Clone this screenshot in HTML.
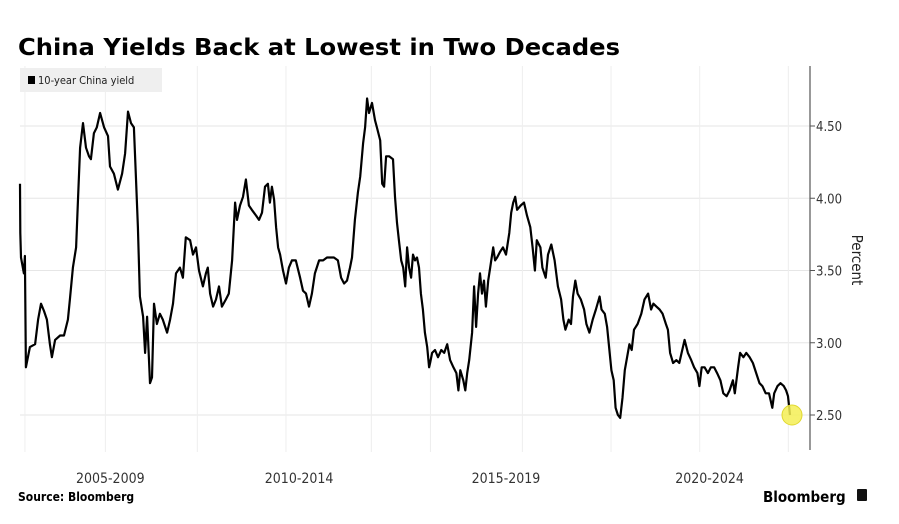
<!DOCTYPE html>
<html><head><meta charset="utf-8">
<style>
html,body{margin:0;padding:0;background:#fff;}
body{width:899px;height:519px;overflow:hidden;font-family:"Liberation Sans","DejaVu Sans",sans-serif;}
svg text{font-family:"DejaVu Sans Condensed","Liberation Sans",sans-serif;}
</style></head>
<body>
<svg id="chart" width="899" height="519" xmlns="http://www.w3.org/2000/svg">
<text x="18" y="55" font-weight="bold" font-size="23" fill="#000" style="font-family:'DejaVu Sans',sans-serif" textLength="602" lengthAdjust="spacingAndGlyphs">China Yields Back at Lowest in Two Decades</text>
<g id="grid"></g>
<g id="axis"></g>
<g id="xaxis"></g>
<g id="series"></g>
<g>
<rect x="20" y="68" width="142" height="24" fill="#efefef"/>
<rect x="28" y="76" width="7" height="8" fill="#000"/>
<text x="38" y="84" font-size="11" fill="#222">10-year China yield</text>
</g>
<text transform="translate(852,260) rotate(90)" text-anchor="middle" font-size="15" fill="#222">Percent</text>
<text x="18" y="501" font-size="12" font-weight="bold" fill="#000">Source: Bloomberg</text>
<text x="763" y="502" font-size="15" font-weight="bold" fill="#000">Bloomberg</text>
<rect x="857" y="489" width="10" height="12" rx="1" fill="#111"/>
</svg>
<script>
const months = [0,0.1,0.3,1.2,1.5,1.8,3.0,4.6,5.5,6.4,7.3,8.2,9.1,9.7,10.7,12.2,13.4,14.6,15.2,16.1,17.1,17.7,18.3,19.2,20.1,21.0,21.6,22.5,23.4,24.4,25.6,26.8,27.4,28.6,29.8,31.1,32.0,32.9,33.8,34.7,35.3,35.9,36.5,37.5,38.1,38.7,39.6,40.2,40.8,41.7,42.6,43.5,44.8,45.7,46.6,47.5,48.7,49.6,50.5,51.8,52.7,53.6,54.5,55.7,56.6,57.2,57.9,58.8,59.7,60.6,61.5,62.7,63.6,64.6,65.5,66.1,67.0,67.9,68.8,69.7,70.6,71.9,72.8,73.7,74.6,75.5,76.1,76.7,77.4,78.0,78.6,79.2,80.1,81.0,81.9,82.8,84.0,85.3,86.2,87.1,88.0,88.9,89.8,91.1,92.3,93.5,94.7,95.6,96.8,97.8,98.7,99.6,100.5,101.1,102.0,102.9,103.6,104.5,105.1,105.7,106.3,107.2,108.1,108.7,109.7,110.3,110.9,111.5,112.4,113.6,114.2,114.8,115.4,116.1,116.7,117.3,117.9,118.5,119.1,119.7,120.3,120.9,121.5,122.1,122.7,123.3,124.0,124.6,124.9,125.5,126.4,127.3,128.3,129.2,130.1,131.0,132.0,132.9,133.5,134.1,135.0,135.6,136.2,136.8,137.7,138.3,138.9,139.5,140.1,140.7,141.3,141.9,142.6,143.2,144.1,144.7,145.3,146.2,147.1,148.0,149.0,149.6,150.2,150.8,151.4,152.5,153.5,154.4,155.4,156.1,156.8,157.4,158.5,159.1,160.1,160.8,161.8,162.8,163.8,164.8,165.5,166.1,167.1,167.8,168.4,169.1,169.8,170.8,171.8,172.5,173.4,174.4,175.4,176.5,177.1,178.1,178.8,179.4,180.1,180.8,181.4,182.1,182.8,183.5,184.2,184.9,185.6,186.3,187.0,188.1,189.2,190.2,191.3,192.2,192.9,193.8,194.8,195.7,196.7,197.3,198.0,198.9,199.9,200.8,201.5,202.4,203.4,204.4,205.3,206.3,206.9,207.6,208.5,209.5,210.4,211.4,212.3,213.3,214.2,215.2,216.1,217.1,217.7,218.7,219.3,220.3,221.2,222.2,223.2,224.2,225.2,226.1,227.1,228.1,229.1,229.7,230.7,231.6,232.6,233.3,233.9,234.5];
const yields = [4.10,3.76,3.59,3.48,3.60,2.83,2.97,2.99,3.16,3.27,3.22,3.16,2.99,2.90,3.02,3.05,3.05,3.16,3.30,3.52,3.66,4.01,4.35,4.52,4.35,4.29,4.27,4.45,4.49,4.59,4.49,4.43,4.22,4.17,4.06,4.17,4.31,4.60,4.52,4.49,4.15,3.80,3.32,3.18,2.93,3.18,2.72,2.76,3.27,3.13,3.20,3.16,3.07,3.16,3.27,3.48,3.52,3.45,3.73,3.71,3.61,3.66,3.50,3.39,3.48,3.52,3.34,3.25,3.30,3.39,3.25,3.30,3.34,3.57,3.97,3.85,3.95,4.01,4.13,3.95,3.92,3.88,3.85,3.90,4.08,4.10,3.97,4.08,3.99,3.80,3.66,3.61,3.50,3.41,3.52,3.57,3.57,3.45,3.36,3.34,3.25,3.34,3.48,3.57,3.57,3.59,3.59,3.59,3.57,3.45,3.41,3.43,3.52,3.59,3.85,4.04,4.15,4.38,4.49,4.69,4.59,4.66,4.54,4.49,4.40,4.10,4.08,4.29,4.29,4.27,4.01,3.83,3.71,3.57,3.52,3.39,3.66,3.52,3.45,3.61,3.57,3.59,3.52,3.34,3.23,3.07,2.97,2.83,2.86,2.93,2.95,2.90,2.95,2.93,2.99,2.88,2.83,2.79,2.67,2.81,2.74,2.67,2.79,2.88,3.07,3.39,3.11,3.34,3.48,3.34,3.43,3.25,3.43,3.52,3.66,3.57,3.59,3.63,3.66,3.61,3.76,3.90,3.97,4.01,3.92,3.95,3.97,3.88,3.80,3.66,3.50,3.71,3.66,3.52,3.45,3.61,3.68,3.57,3.39,3.30,3.16,3.09,3.16,3.13,3.32,3.43,3.34,3.30,3.23,3.13,3.07,3.16,3.23,3.32,3.23,3.20,3.11,2.97,2.81,2.74,2.55,2.50,2.48,2.62,2.81,2.90,2.99,2.95,3.09,3.13,3.20,3.30,3.34,3.23,3.27,3.25,3.23,3.20,3.13,3.09,2.93,2.86,2.88,2.86,2.93,3.02,2.93,2.88,2.83,2.79,2.70,2.83,2.83,2.79,2.83,2.83,2.79,2.74,2.65,2.63,2.67,2.74,2.65,2.83,2.93,2.90,2.93,2.90,2.86,2.79,2.72,2.70,2.65,2.65,2.55,2.65,2.70,2.72,2.70,2.67,2.63,2.50];
const yTicks = [2.5,3.0,3.5,4.0,4.5];
const yTickLabels = ["2.50","3.00","3.50","4.00","4.50"];
const xLabels = ["2005-2009","2010-2014","2015-2019","2020-2024"];
const xLabelMonths = [27.5,85,148,210];
const gridMonths = [1.5,26,54,81,107,125,153,180,207,234];

const NS="http://www.w3.org/2000/svg";
const X0=20,X1=790,M0=0,M1=234.5;
function xs(m){return X0+(m-M0)/(M1-M0)*(X1-X0);}
function ys(v){return 415-(v-2.5)*144.5;}
function mk(tag,attrs,parent){const e=document.createElementNS(NS,tag);for(const k in attrs)e.setAttribute(k,attrs[k]);parent.appendChild(e);return e;}
const grid=document.getElementById('grid'),axis=document.getElementById('axis'),xaxis=document.getElementById('xaxis'),series=document.getElementById('series');
yTicks.forEach((t,i)=>{
  const g=mk('line',{x1:20,x2:810,y1:ys(t),y2:ys(t),stroke:'#e6e6e6','stroke-width':1},grid);
  
  
  const tk=mk('line',{x1:810,x2:815,y1:ys(t),y2:ys(t),stroke:'#555','stroke-width':1},axis);
  
  
  const lb=mk('text',{x:816,y:ys(t)+5,'font-size':13,fill:'#333'},axis);
  lb.textContent=yTickLabels[i];
  
  
});
gridMonths.forEach(m=>{
  const g=mk('line',{x1:xs(m),x2:xs(m),y1:66,y2:452,stroke:'#eeeeee','stroke-width':1},grid);
  
  
});
const ax=mk('line',{x1:810,x2:810,y1:66,y2:450,stroke:'#555','stroke-width':1.2},axis);


xLabels.forEach((l,i)=>{
  const t=mk('text',{x:xs(xLabelMonths[i]),y:483,'text-anchor':'middle','font-size':14,fill:'#333'},xaxis);
  t.textContent=l;
  
  
});
let d='';
months.forEach((m,i)=>{d+=(i?'L':'M')+xs(m).toFixed(1)+' '+ys(yields[i]).toFixed(1);});
const p=mk('path',{d:d,fill:'none',stroke:'#000','stroke-width':2.2,'stroke-linejoin':'round'},series);


const last=yields.length-1;
const c=mk('circle',{cx:xs(months[last])+2,cy:ys(yields[last]),r:10,fill:'#f4ee55','fill-opacity':0.85,stroke:'#e0d830','stroke-width':1},series);


</script>
</body></html>
